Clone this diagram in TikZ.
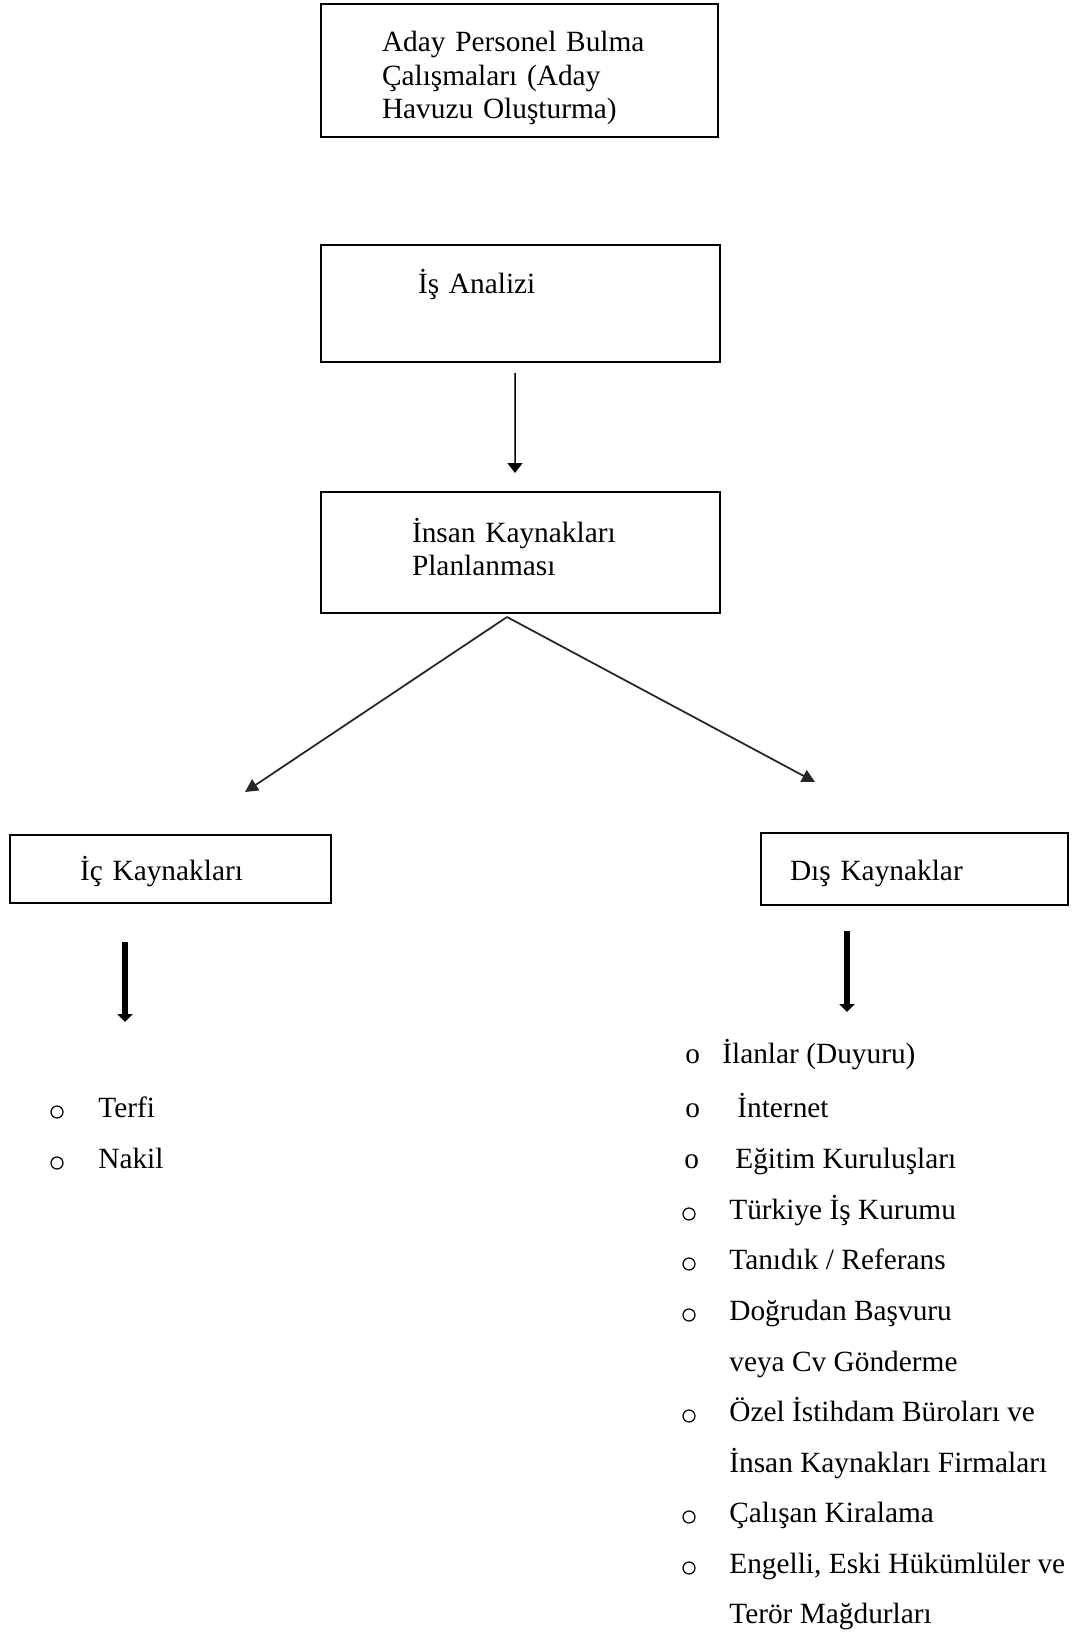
\documentclass[tikz,border=0pt]{standalone}
\usepackage{fontspec}
\setmainfont{Liberation Serif}
\usepackage{tikz}
\usetikzlibrary{positioning}
\usetikzlibrary{calc,arrows.meta}
\newcommand{\yazi}{\fontsize{16.7}{18.8}\selectfont}

\begin{document}
\begin{tikzpicture}[
	kutu/.style={draw, line width=1.1pt, anchor=north west, align=left, inner ysep=0pt, outer sep=0pt, font=\yazi},
	madde/.style={anchor=base west, inner sep=0pt, font=\yazi},
	yuvarlak/.style={draw, circle, line width=0.7pt, minimum size=0.24cm, inner sep=0pt},
	ince/.style={line width=0.85pt, -{Triangle[length=0.20cm,width=0.30cm]}},
	capraz/.style={line width=1.0pt, draw=black!85, -{Triangle[length=0.26cm,width=0.26cm]}},
	kalin/.style={line width=3pt, -{Triangle[length=0.16cm,width=0.30cm]}}
]

	\useasboundingbox (0,0) rectangle (21.48,-32.68);

	% ---------------------
	% Kutular
	\node[kutu, inner xsep=1.22cm, text width=5.50cm, text height=0.96cm, text depth=1.70cm] (Aday) at (6.42cm,-0.08cm)
		{Aday Personel Bulma\\ Çalışmaları (Aday\\ Havuzu Oluşturma)};

	\node[kutu, inner xsep=1.94cm, text width=4.10cm, text height=0.96cm, text depth=1.38cm] (IsAnalizi) at (6.42cm,-4.90cm)
		{İş Analizi};

	\node[kutu, inner xsep=1.82cm, text width=4.34cm, text height=1.00cm, text depth=1.42cm] (InsanKaynaklari) at (6.42cm,-9.84cm)
		{İnsan Kaynakları\\ Planlanması};

	\node[kutu, inner xsep=1.40cm, text width=3.62cm, text height=0.90cm, text depth=0.46cm] (IcKaynaklar) at (0.20cm,-16.70cm)
		{İç Kaynakları};

	\node[kutu, inner xsep=0.58cm, text width=4.98cm, text height=0.94cm, text depth=0.50cm] (DisKaynaklar) at (15.22cm,-16.66cm)
		{Dış Kaynaklar};

	% ---------------------
	% Ok uclari
	\path (InsanKaynaklari.south) +(-0.27cm,-0.08cm) coordinate (Ayrim);
	\path (IcKaynaklar.north)     +(1.49cm,0.86cm)   coordinate (IcUc);
	\path (DisKaynaklar.north)    +(-1.99cm,1.02cm)  coordinate (DisUc);

	\path (IcKaynaklar.south)  +(-0.91cm,-0.78cm) coordinate (IcOkBas);
	\path (IcKaynaklar.south)  +(-0.91cm,-2.38cm) coordinate (IcOkUc);
	\path (DisKaynaklar.south) +(-1.35cm,-0.52cm) coordinate (DisOkBas);
	\path (DisKaynaklar.south) +(-1.35cm,-2.14cm) coordinate (DisOkUc);

	% ---------------------
	% Oklar
	\draw[ince, shorten <=0.22cm, shorten >=0.38cm] ([xshift=-0.11cm]IsAnalizi.south) -- ([xshift=-0.11cm]InsanKaynaklari.north);

	\draw[capraz] (Ayrim) -- (IcUc);
	\draw[capraz] (Ayrim) -- (DisUc);

	\draw[kalin] (IcOkBas) -- (IcOkUc);
	\draw[kalin] (DisOkBas) -- (DisOkUc);

	% ------------------------------------------------
	% Ic kaynaklar listesi
	\node[madde] (Terfi) at (1.96cm,-22.34cm) {Terfi};
	\node[madde] (Nakil) at (1.96cm,-23.36cm) {Nakil};
	\node[yuvarlak] (TerfiImi) at (1.14cm,-22.24cm) {};
	\node[yuvarlak] (NakilImi) at (1.14cm,-23.26cm) {};

	% ------------------------------------------------
	% Dis kaynaklar listesi
	\node[madde] (Ilanlar)    at (14.44cm,-21.26cm) {İlanlar (Duyuru)};
	\node[madde] (Internet)   at (14.74cm,-22.34cm) {İnternet};
	\node[madde] (Egitim)     at (14.70cm,-23.36cm) {Eğitim Kuruluşları};
	\node[madde] (IsKurumu)   at (14.58cm,-24.38cm) {Türkiye İş Kurumu};
	\node[madde] (Tanidik)    at (14.58cm,-25.38cm) {Tanıdık / Referans};
	\node[madde] (Basvuru)    at (14.58cm,-26.40cm) {Doğrudan Başvuru};
	\node[madde] (CvGonderme) at (14.58cm,-27.42cm) {veya Cv Gönderme};
	\node[madde] (Burolar)    at (14.58cm,-28.42cm) {Özel İstihdam Büroları ve};
	\node[madde] (Firmalar)   at (14.58cm,-29.44cm) {İnsan Kaynakları Firmaları};
	\node[madde] (Kiralama)   at (14.58cm,-30.44cm) {Çalışan Kiralama};
	\node[madde] (Engelli)    at (14.58cm,-31.46cm) {Engelli, Eski Hükümlüler ve};
	\node[madde] (Magdurlar)  at (14.58cm,-32.46cm) {Terör Mağdurları};

	\node[madde] (IlanlarImi)  at (13.70cm,-21.26cm) {o};
	\node[madde] (InternetImi) at (13.70cm,-22.34cm) {o};
	\node[madde] (EgitimImi)   at (13.68cm,-23.36cm) {o};

	\node[yuvarlak] (IsKurumuImi) at (13.78cm,-24.28cm) {};
	\node[yuvarlak] (TanidikImi)  at (13.78cm,-25.28cm) {};
	\node[yuvarlak] (BasvuruImi)  at (13.78cm,-26.30cm) {};
	\node[yuvarlak] (BurolarImi)  at (13.78cm,-28.32cm) {};
	\node[yuvarlak] (KiralamaImi) at (13.78cm,-30.34cm) {};
	\node[yuvarlak] (EngelliImi)  at (13.78cm,-31.36cm) {};

\end{tikzpicture}
\end{document}
